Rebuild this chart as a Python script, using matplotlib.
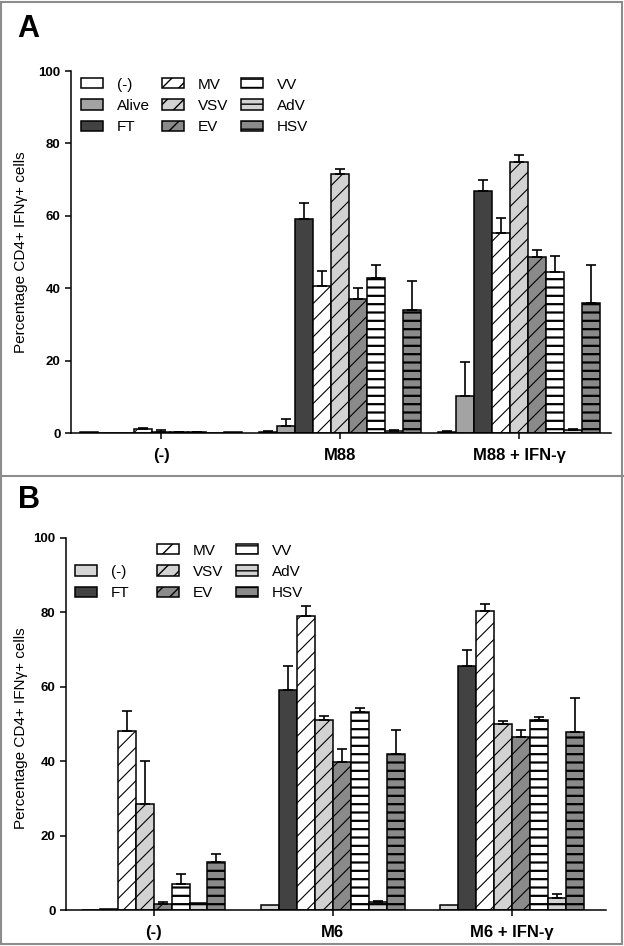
import matplotlib
matplotlib.use('Agg')
import matplotlib.pyplot as plt
from matplotlib.patches import Patch, Rectangle
from matplotlib.lines import Line2D
import numpy as np

plt.rcParams['font.family'] = ['Liberation Sans', 'DejaVu Sans']
plt.rcParams['hatch.linewidth'] = 1.0

# Panel A data
groups_a = ['(-)', 'M88', 'M88 + IFN-γ']
series_a = ['(-)', 'Alive', 'FT', 'MV', 'VSV', 'EV', 'VV', 'AdV', 'HSV']
a_neg = [0.2, 0.4, 0.3]
a_alive = [0.0, 2.0, 10.3]
a_ft = [0.0, 59.0, 66.9]
a_mv = [1.2, 40.7, 55.3]
a_vsv = [0.4, 71.5, 74.9]
a_ev = [0.2, 36.9, 48.5]
a_vv = [0.2, 42.9, 44.6]
a_adv = [0.1, 0.5, 0.8]
a_hsv = [0.2, 34.0, 35.9]
a_neg_err = [0.0, 0.2, 0.2]
a_alive_err = [0.0, 1.8, 9.4]
a_ft_err = [0.0, 4.4, 3.1]
a_mv_err = [0.2, 4.1, 4.1]
a_vsv_err = [0.5, 1.5, 1.9]
a_ev_err = [0.1, 3.1, 2.1]
a_vv_err = [0.1, 3.5, 4.4]
a_adv_err = [0.0, 0.2, 0.3]
a_hsv_err = [0.0, 8.0, 10.4]

# Panel B data
groups_b = ['(-)', 'M6', 'M6 + IFN-γ']
series_b = ['(-)', 'FT', 'MV', 'VSV', 'EV', 'VV', 'AdV', 'HSV']
b_neg = [0.1, 1.3, 1.3]
b_ft = [0.4, 59.2, 65.5]
b_mv = [48.1, 79.1, 80.3]
b_vsv = [28.5, 51.0, 50.1]
b_ev = [1.5, 39.8, 46.4]
b_vv = [6.9, 53.2, 51.2]
b_adv = [1.8, 2.1, 3.1]
b_hsv = [12.9, 41.9, 47.8]
b_neg_err = [0.0, 0.0, 0.0]
b_ft_err = [0.0, 6.3, 4.3]
b_mv_err = [5.3, 2.5, 1.9]
b_vsv_err = [11.6, 1.2, 0.8]
b_ev_err = [0.6, 3.5, 2.0]
b_vv_err = [2.8, 1.1, 0.8]
b_adv_err = [0.0, 0.3, 1.1]
b_hsv_err = [2.1, 6.5, 9.2]

# fill colour, hatch per series
styles = {
    '(-)': ('white', ''),
    'Alive': ('#a3a3a3', ''),
    'FT': ('#424242', ''),
    'MV': ('white', '//'),
    'VSV': ('#d2d2d2', '//'),
    'EV': ('#8a8a8a', '//'),
    'VV': ('white', '--'),
    'AdV': ('#d2d2d2', '--'),
    'HSV': ('#8a8a8a', '--'),
}

fig = plt.figure(figsize=(6.24, 9.46), dpi=100)
ax_a = fig.add_axes([71/624, 1-433/946, 540/624, 362/946])
ax_b = fig.add_axes([66/624, 1-910/946, 540/624, 372/946])


def draw_panel(ax, groups, names, values, errors, neg_color, xlim):
    n = len(names)
    w = 0.1
    x0 = np.arange(len(groups))
    handles = []
    for i, (name, v, e) in enumerate(zip(names, values, errors)):
        fc, hatch = styles[name]
        if name == '(-)':
            fc = neg_color
        x = x0 + (i - (n - 1) / 2) * w
        hlw = 1.6 if '-' in hatch else 0.8
        with plt.rc_context({'hatch.linewidth': hlw}):
            bars = ax.bar(x, v, w, color=fc, edgecolor='black', hatch=hatch,
                          linewidth=1.1, zorder=2, label=name)
        for b in bars:
            if hasattr(b, 'set_hatch_linewidth'):
                b.set_hatch_linewidth(hlw)
        handles.append(bars)
        v = np.array(v)
        e = np.array(e)
        m = e > 0
        if m.any():
            ax.errorbar(x[m], v[m], yerr=[np.zeros(m.sum()), e[m]], fmt='none',
                        ecolor='black', elinewidth=1.2, capsize=3.5,
                        capthick=1.2, zorder=3)
    ax.set_xlim(*xlim)
    ax.set_ylim(0, 100)
    ax.set_yticks([0, 20, 40, 60, 80, 100])
    ax.set_xticks(x0)
    ax.set_xticklabels(groups, fontsize=12, fontweight='bold')
    for t in ax.get_yticklabels():
        t.set_fontsize(9.5)
        t.set_fontweight('bold')
    ax.spines['top'].set_visible(False)
    ax.spines['right'].set_visible(False)
    ax.spines['left'].set_linewidth(1.1)
    ax.spines['bottom'].set_linewidth(1.1)
    ax.tick_params(axis='both', width=1.1, length=4)
    ax.tick_params(axis='x', pad=7)
    ax.set_ylabel('Percentage CD4+ IFNγ+ cells', fontsize=11)
    return handles


h_a = draw_panel(ax_a, groups_a, series_a,
                 [a_neg, a_alive, a_ft, a_mv, a_vsv, a_ev, a_vv, a_adv, a_hsv],
                 [a_neg_err, a_alive_err, a_ft_err, a_mv_err, a_vsv_err,
                  a_ev_err, a_vv_err, a_adv_err, a_hsv_err],
                 'white', (-0.503, 2.514))
h_b = draw_panel(ax_b, groups_b, series_b,
                 [b_neg, b_ft, b_mv, b_vsv, b_ev, b_vv, b_adv, b_hsv],
                 [b_neg_err, b_ft_err, b_mv_err, b_vsv_err, b_ev_err,
                  b_vv_err, b_adv_err, b_hsv_err],
                 '#d6d6d6', (-0.49, 2.525))

ax_a.yaxis.set_label_coords(-0.08, 0.5)
ax_b.yaxis.set_label_coords(-0.071, 0.49)

leg_kw = dict(ncol=3, frameon=False, fontsize=11, handlelength=1.45,
              handleheight=0.65, handletextpad=0.9, columnspacing=0.8,
              labelspacing=0.48, borderpad=0, borderaxespad=0)
ax_a.legend(h_a, series_a, loc='upper left', bbox_to_anchor=(0.0185, 0.982), **leg_kw)
# empty first slot so (-) and FT sit in rows 2-3, as in the original
blank = Patch(facecolor='none', edgecolor='none')
ax_b.legend([blank] + h_b, ['\u00a0' * 8] + series_b, loc='upper left',
            bbox_to_anchor=(0.0167, 0.985), **leg_kw)

fig.text(17/624, 1-37/946, 'A', fontsize=22, fontweight='bold', va='baseline')
fig.text(18/624, 1-508/946, 'B', fontsize=22, fontweight='bold', va='baseline')

# grey frame and divider
fig.add_artist(Rectangle((0.002, 0.002), 0.994, 0.996, transform=fig.transFigure,
                         fill=False, edgecolor='#8c8c8c', linewidth=1.5))
fig.add_artist(Line2D([0, 1], [1-476/946, 1-476/946], transform=fig.transFigure,
                      color='#8c8c8c', linewidth=1.5))

fig.savefig('out.png', dpi=100)
